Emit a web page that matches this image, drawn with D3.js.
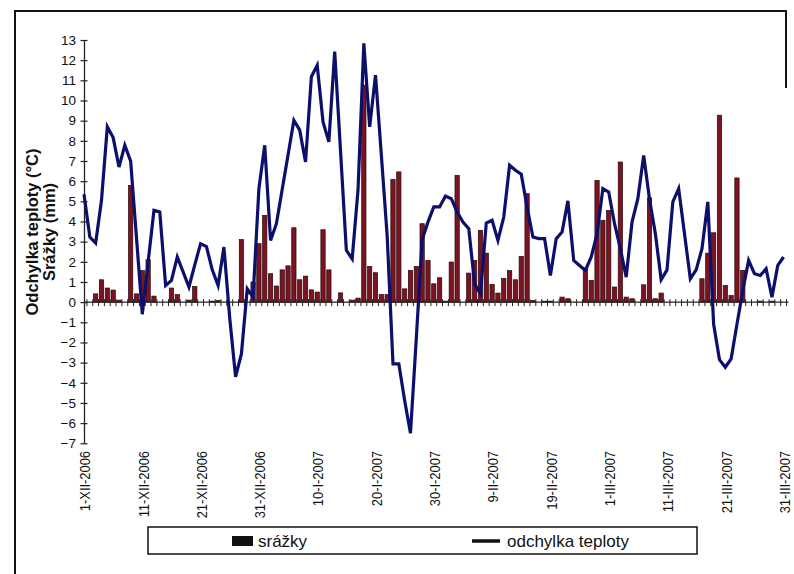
<!DOCTYPE html>
<html>
<head>
<meta charset="utf-8">
<script src="https://cdn.jsdelivr.net/npm/d3@7"></script>
<style>
html,body{margin:0;padding:0;background:#fff;}
svg{display:block;font-family:"Liberation Sans",Arial,sans-serif;}
</style>
</head>
<body>
<svg id="chart" width="794" height="574"></svg>
<script>
// Day index 0 = 1-XII-2006 ... 120 = 31-III-2007
const dayLabels = ["1-XII-2006","11-XII-2006","21-XII-2006","31-XII-2006","10-I-2007","20-I-2007","30-I-2007","9-II-2007","19-II-2007","1-III-2007","11-III-2007","21-III-2007","31-III-2007"];
const labelDays = [0,10,20,30,40,50,60,70,80,90,100,110,120];
const yTicks = [13,12,11,10,9,8,7,6,5,4,3,2,1,0,-1,-2,-3,-4,-5,-6,-7];

// odchylka teploty (°C)
const temperature = [
 5.35,3.23,2.93,5.05,8.7,8.16,6.7,7.78,6.99,3.2,
 -0.6,2.0,4.55,4.47,0.83,1.08,2.24,1.5,0.75,1.85,
 2.9,2.76,1.6,0.83,2.73,-0.8,-3.7,-2.57,0.66,0.25,
 5.63,7.78,3.06,3.89,5.6,7.3,9.02,8.53,6.95,11.18,
 11.75,8.94,7.95,12.42,7.5,2.57,2.15,5.55,12.83,8.69,
 11.26,7.3,3.3,-3.06,-3.06,-4.88,-6.5,-1.8,3.1,3.97,
 4.72,4.72,5.26,5.13,4.47,3.97,3.64,0.91,0.41,3.92,
 4.06,3.06,4.22,6.79,6.54,6.34,4.72,3.23,3.15,3.15,
 1.32,3.15,3.48,5.02,2.07,1.82,1.57,2.24,3.39,5.63,
 5.46,3.89,2.65,1.24,3.97,5.13,7.28,5.1,3.4,1.11,
 1.6,4.97,5.63,3.39,1.16,1.6,2.65,4.97,-1.1,-2.85,
 -3.23,-2.81,-1.1,0.58,2.07,1.41,1.32,1.66,0.25,1.82,
 2.24
];

// srážky (mm)
const precipitation = [
 0,0,0.41,1.11,0.7,0.6,0.1,0,5.79,0.41,
 1.57,2.1,0.3,0,0,0.7,0.38,0,0.1,0.78,
 0,0,0.05,0.08,0,0,0,3.1,0,1.0,
 2.9,4.3,1.41,0.8,1.6,1.8,3.69,1.11,1.29,0.61,
 0.5,3.59,1.6,0,0.46,0,0.1,0.2,10.76,1.77,
 1.46,0.38,0.38,6.08,6.46,0.66,1.57,1.77,3.89,2.07,
 0.91,1.21,0.05,1.99,6.29,0,1.44,2.07,3.56,2.43,
 0.88,0.45,1.18,1.57,1.11,2.27,5.38,0.08,0,0.05,
 0.05,0,0.25,0.17,0,0,1.7,1.08,6.04,4.06,
 4.55,0.75,6.95,0.25,0.17,0,0.86,5.17,0.17,0.45,
 0,0,0,0,0,0,1.16,2.43,3.44,9.27,
 0.83,0.33,6.16,1.57,0,0,0.05,0,0.05,0,
 0
];

const days = d3.range(temperature.length);

const svg = d3.select("#chart");

// frame
svg.append("path")
  .attr("d","M15,574 L15,11 L786,11 L786,88")
  .attr("fill","none").attr("stroke","#111").attr("stroke-width",2);

const x = d3.scaleLinear().domain([0,120]).range([84,783.6]);
const y = d3.scaleLinear().domain([-7,13]).range([443.3,40]);

// bars
const barW = 4.3;
svg.append("g").selectAll("rect")
  .data(days.filter(d => precipitation[d] > 0))
  .join("rect")
  .attr("x", d => x(d) - barW/2)
  .attr("y", d => y(precipitation[d]))
  .attr("width", barW)
  .attr("height", d => Math.max(0.6, y(0) - y(precipitation[d])))
  .attr("fill","#7b1422")
  .attr("stroke","#2a0608")
  .attr("stroke-width",0.7);

// y axis
const yAxis = d3.axisLeft(y).tickValues(yTicks).tickSize(0).tickPadding(8).tickFormat(d3.format("d"));
const gy = svg.append("g").attr("transform","translate(84,0)").call(yAxis);
gy.select(".domain").attr("stroke","#222").attr("stroke-width",1.3);
gy.selectAll(".tick text").attr("font-size",13.5).attr("fill","#111")
  .attr("font-family","'Liberation Sans',Arial,sans-serif");
gy.selectAll(".tick").append("line")
  .attr("x1",-3.5).attr("x2",3.5).attr("stroke","#222").attr("stroke-width",1.2);

// x axis (at zero) with day ticks at category boundaries
const gx = svg.append("g");
gx.append("line")
  .attr("x1",x(0)).attr("x2",x(120.5)+2)
  .attr("y1",y(0)).attr("y2",y(0))
  .attr("stroke","#222").attr("stroke-width",1.3);
gx.selectAll("line.tk")
  .data(d3.range(0.5,121,1))
  .join("line").attr("class","tk")
  .attr("x1",d=>x(d)).attr("x2",d=>x(d))
  .attr("y1",y(0)-3).attr("y2",y(0)+4)
  .attr("stroke","#222").attr("stroke-width",1);

// x labels
svg.append("g").selectAll("text")
  .data(labelDays)
  .join("text")
  .attr("transform", (d) => `translate(${x(d)+1},451) rotate(-90) scale(0.86,1)`)
  .attr("text-anchor","end")
  .attr("dy","0.35em")
  .attr("font-size",15)
  .attr("fill","#111")
  .text((d,i) => dayLabels[i]);

// line
const line = d3.line().x(d => x(d)).y(d => y(temperature[d]));
svg.append("path")
  .datum(days)
  .attr("d", line)
  .attr("fill","none")
  .attr("stroke","#0c0f6b")
  .attr("stroke-width",3.2)
  .attr("stroke-linejoin","miter");

// y titles
svg.append("text")
  .attr("transform","translate(38,232) rotate(-90)")
  .attr("text-anchor","middle")
  .attr("font-size",16.5).attr("font-weight","bold").attr("fill","#111")
  .text("Odchylka teploty (°C)");
svg.append("text")
  .attr("transform","translate(55,232) rotate(-90)")
  .attr("text-anchor","middle")
  .attr("font-size",16.5).attr("font-weight","bold").attr("fill","#111")
  .text("Srážky (mm)");

// legend
const lg = svg.append("g");
lg.append("rect").attr("x",148).attr("y",527).attr("width",549).attr("height",27)
  .attr("fill","#fff").attr("stroke","#111").attr("stroke-width",1.5);
lg.append("rect").attr("x",232).attr("y",536).attr("width",21).attr("height",10).attr("fill","#111");
lg.append("text").attr("x",258).attr("y",547).attr("font-size",17).attr("fill","#111").text("srážky");
lg.append("line").attr("x1",472).attr("x2",500).attr("y1",541).attr("y2",541)
  .attr("stroke","#111").attr("stroke-width",3.5);
lg.append("text").attr("x",507).attr("y",547).attr("font-size",17).attr("fill","#111").text("odchylka teploty");
</script>
</body>
</html>
